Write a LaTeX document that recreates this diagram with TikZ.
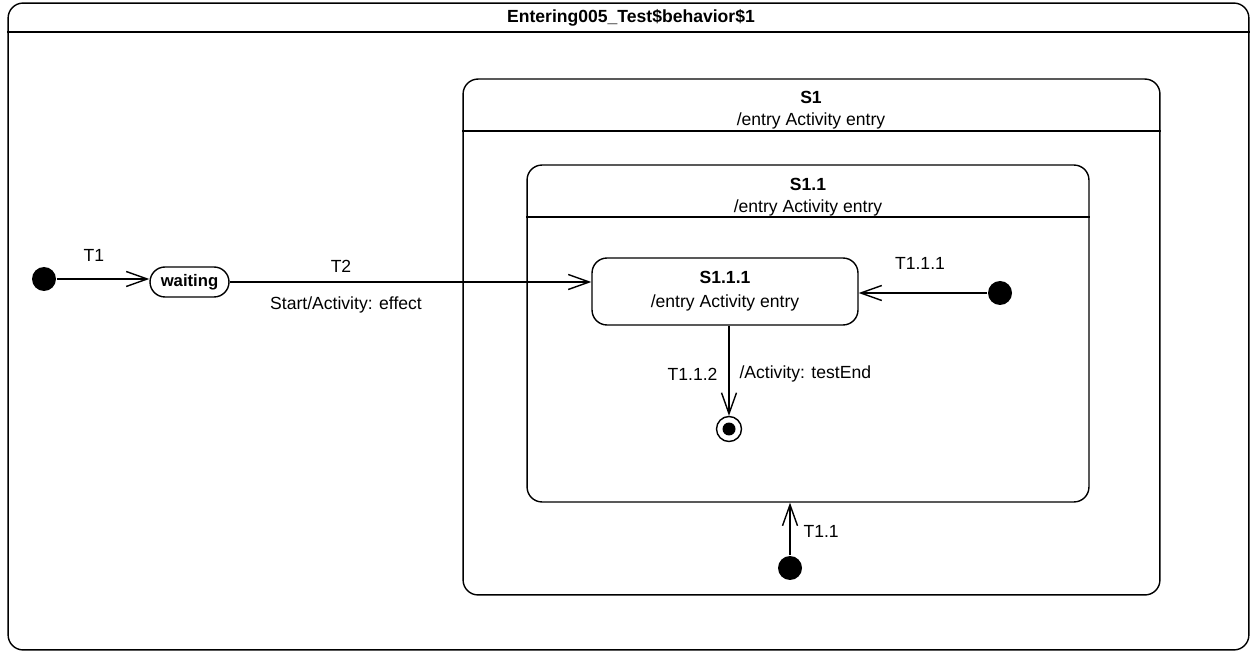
\documentclass[tikz,border=0pt]{standalone}
\usepackage{fontspec}
\setmainfont{Liberation Sans}
\usetikzlibrary{calc,positioning,arrows.meta}

\begin{document}
\begin{tikzpicture}[x=0.02cm,y=-0.02cm,line width=0.8pt,
  font=\fontsize{10}{13.5}\selectfont,
  box/.style={draw, rounded corners=0.3cm, inner sep=0pt},
  initdot/.style={circle, fill=black, minimum size=0.48cm, inner sep=0pt},
  trans/.style={-{Straight Barb[length=4.2mm,width=3mm]}}]
  \useasboundingbox (0,0) rectangle (1250,651);
  % frames of the composite states
  \node[box, minimum width=24.82cm, minimum height=12.94cm] (frame) at (628.5,326.5) {};
  \draw (frame.west |- 0,32) -- (frame.east |- 0,32);
  \node[font=\fontsize{10}{12}\selectfont\bfseries] (title) at (631,18) {Entering005\_Test\$behavior\$1};
  \node[box, minimum width=13.94cm, minimum height=10.32cm] (S1) at (811.5,337) {};
  \draw (S1.west |- 0,131) -- (S1.east |- 0,131);
  \node[font=\bfseries] (S1name) at (811,97) {S1};
  \node (S1entry) at (811,121) {/entry Activity entry};
  \node[box, minimum width=11.24cm, minimum height=6.74cm] (S11) at (808,333.5) {};
  \draw (S11.west |- 0,217) -- (S11.east |- 0,217);
  \node[font=\bfseries] (S11name) at (808,184) {S1.1};
  \node (S11entry) at (808,208) {/entry Activity entry};
  % simple states
  \node[box, minimum width=5.32cm, minimum height=1.34cm, align=center] (S111) at (725,291.5)
    {\textbf{S1.1.1}\\/entry Activity entry};
  \node[box, minimum width=1.58cm, minimum height=0.6cm, font=\fontsize{9.5}{12}\selectfont\bfseries] (waiting) at (189.5,282) {waiting};
  % pseudo states
  \node[initdot] (init) at (44,279) {};
  \node[initdot] (initR) at (1000,293) {};
  \node[initdot] (initB) at (790,568) {};
  \node[circle, draw, minimum size=0.5cm, inner sep=0pt] (final) at (729,429) {};
  \fill (final) circle (0.13cm);
  % transitions
  \draw[trans] (init) -- (init -| waiting.west);
  \draw[trans] (waiting.east) -- (waiting.east -| S111.west);
  \draw[trans] (initR) -- (initR -| S111.east);
  \draw[trans] (S111.south -| final) -- (final.north);
  \draw[trans] (initB) -- (initB |- S11.south);
  \node (T1) at (94,255) {T1};
  \node (T2) at (341,266) {T2};
  \node (T2eff) at (346,305) {Start/Activity: effect};
  \node (T111) at (920,263) {T1.1.1};
  \node[left] (T112) at (724,374) {T1.1.2};
  \node[right] (T112eff) at (733,374) {/Activity: testEnd};
  \node[right] (T11) at (797,531) {T1.1};
\end{tikzpicture}
\end{document}
